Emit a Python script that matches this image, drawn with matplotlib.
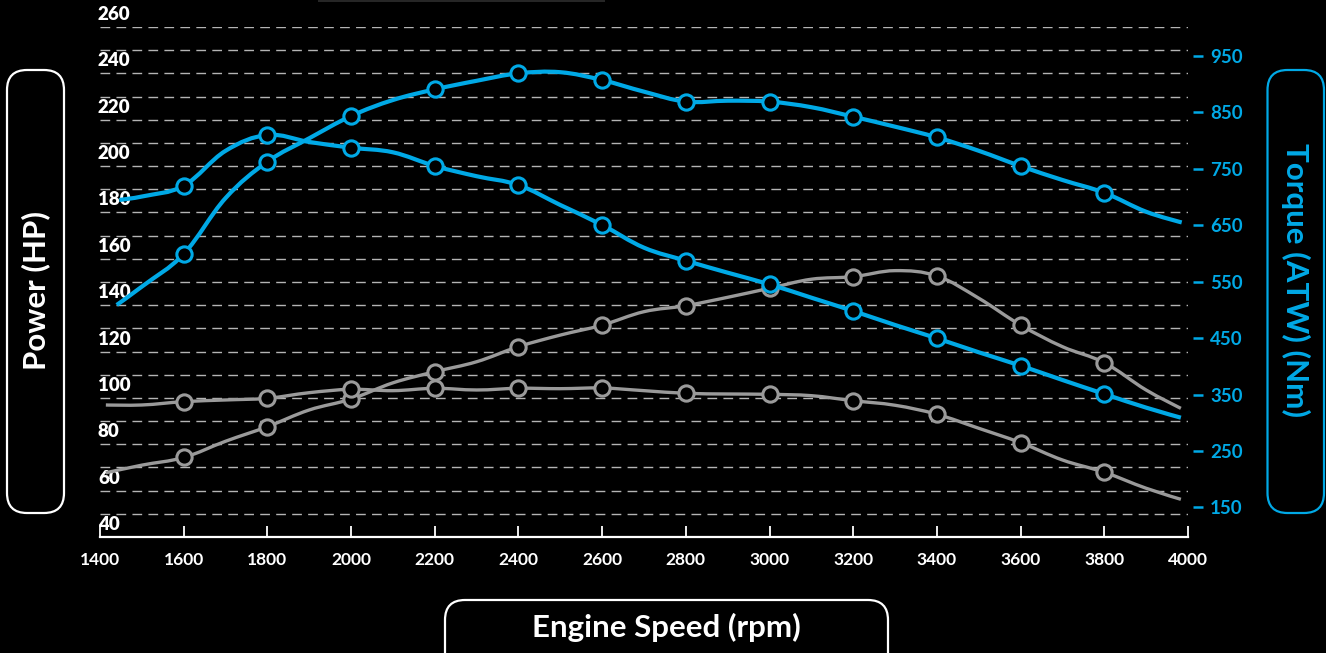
import numpy as np
import matplotlib
matplotlib.use("Agg")
import matplotlib.pyplot as plt
from matplotlib.path import Path
from matplotlib.patches import PathPatch, FancyBboxPatch, Rectangle
from matplotlib.transforms import ScaledTranslation

plt.rcParams['font.family'] = ['Lato', 'DejaVu Sans']
plt.rcParams['font.weight'] = 'bold'

BLUE = '#00a9e6'
GREY = '#9a9a9a'

# tuned power (HP, left axis)
tuned_hp_rpm = [1440, 1500, 1600, 1700, 1800, 1900, 2000, 2100, 2200, 2300, 2400, 2500, 2600,
                2700, 2800, 2900, 3000, 3100, 3200, 3300, 3400, 3500, 3600, 3700, 3800, 3900, 3985]
tuned_hp = [140.1, 148.0, 162.1, 186.2, 201.9, 212.0, 221.6, 228.5, 233.1, 236.8, 240.0, 240.5, 237.1,
            232.1, 227.8, 228.2, 227.8, 225.4, 221.3, 217.0, 212.4, 206.6, 200.0, 194.0, 188.5, 180.3, 175.7]

# tuned torque (Nm, right axis)
tuned_nm_rpm = [1446, 1500, 1600, 1700, 1800, 1900, 2000, 2100, 2200, 2300, 2400, 2500, 2600,
                2700, 2800, 2900, 3000, 3100, 3200, 3300, 3400, 3500, 3600, 3700, 3800, 3900, 3983]
tuned_nm = [694.9, 701.0, 720.2, 782.0, 810.1, 797.7, 787.6, 779.4, 755.1, 737.0, 721.4, 686.0, 650.5,
            610.3, 587.3, 566.0, 545.4, 521.7, 498.1, 473.3, 449.7, 424.9, 401.2, 375.8, 351.0, 326.8, 309.0]

# stock power (HP, left axis)
stock_hp_rpm = [1414, 1500, 1600, 1700, 1800, 1900, 2000, 2100, 2200, 2300, 2400, 2500, 2600,
                2700, 2800, 2900, 3000, 3100, 3200, 3300, 3400, 3500, 3600, 3700, 3800, 3900, 3983]
stock_hp = [67.7, 71.0, 74.3, 81.3, 87.6, 94.8, 99.5, 106.5, 111.3, 115.6, 122.1, 127.1, 131.4,
            137.2, 139.8, 143.4, 147.3, 151.2, 152.3, 154.9, 152.6, 143.0, 131.4, 122.1, 115.2, 103.4, 95.5]

# stock torque (Nm, right axis)
stock_nm_rpm = stock_hp_rpm
stock_nm = [331.5, 331.5, 337.4, 340.4, 343.4, 353.3, 359.3, 356.9, 361.1, 358.1, 361.1, 360.4, 361.6,
            356.9, 352.2, 351.0, 350.4, 348.0, 339.1, 331.0, 315.0, 290.2, 264.7, 234.0, 212.2, 183.9, 164.3]

rpm_ticks = list(range(1400, 4001, 200))
hp_ticks = list(range(40, 261, 20))
nm_ticks = list(range(150, 951, 100))


def smooth_path(xs, ys, t=0.36):
    # cubic bezier through the points (like a tension spline)
    xs = np.asarray(xs, float)
    ys = np.asarray(ys, float)
    n = len(xs)
    c1 = np.zeros((n, 2))
    c2 = np.zeros((n, 2))
    for i in range(n):
        if i == 0 or i == n - 1:
            c1[i] = c2[i] = (xs[i], ys[i])
            continue
        d01 = xs[i] - xs[i - 1]
        d12 = xs[i + 1] - xs[i]
        s01 = d01 / (d01 + d12)
        s12 = d12 / (d01 + d12)
        dx = xs[i + 1] - xs[i - 1]
        dy = ys[i + 1] - ys[i - 1]
        c1[i] = (xs[i] - t * s01 * dx, ys[i] - t * s01 * dy)
        c2[i] = (xs[i] + t * s12 * dx, ys[i] + t * s12 * dy)
    verts = [(xs[0], ys[0])]
    codes = [Path.MOVETO]
    for i in range(n - 1):
        verts += [tuple(c2[i]), tuple(c1[i + 1]), (xs[i + 1], ys[i + 1])]
        codes += [Path.CURVE4] * 3
    return Path(verts, codes)


def draw_series(axis, xs, ys, color, lw):
    axis.add_patch(PathPatch(smooth_path(xs, ys), facecolor='none', edgecolor=color,
                             lw=lw, capstyle='butt', joinstyle='round', zorder=3))
    mx = [x for x in xs if x % 200 == 0 and 1600 <= x <= 3800]
    my = [y for x, y in zip(xs, ys) if x % 200 == 0 and 1600 <= x <= 3800]
    axis.plot(mx, my, 'o', ms=11, mfc='black', mec=color, mew=2.2, zorder=4)


fig = plt.figure(figsize=(13.26, 6.53), dpi=100, facecolor='black')
ax = fig.add_axes([100 / 1326, 1 - 537 / 653, 1088 / 1326, 510 / 653])
ax.set_facecolor('black')
ax.set_xlim(1400, 4000)
ax.set_ylim(40, 260)

for s in ['top', 'left', 'right']:
    ax.spines[s].set_visible(False)
ax.spines['bottom'].set_color('white')
ax.spines['bottom'].set_linewidth(1.6)

ax.set_xticks(rpm_ticks)
ax.set_xticklabels([str(v) for v in rpm_ticks], fontweight='bold')
ax.tick_params(axis='x', direction='in', length=8, width=1.3, colors='white',
               pad=11, labelsize=12.5)

ax.set_yticks(list(range(50, 260, 20)), minor=True)
ax.set_yticks(hp_ticks)
ax.set_yticklabels([str(v) for v in hp_ticks])
ax.tick_params(axis='y', which='both', length=0, pad=1.5, labelcolor='white')
shift = ScaledTranslation(0, 0.04, fig.dpi_scale_trans)
for lab in ax.get_yticklabels():
    lab.set_fontweight('heavy')
    lab.set_fontsize(13.5)
    lab.set_horizontalalignment('left')
    lab.set_verticalalignment('bottom')
    lab.set_transform(lab.get_transform() + shift)

ax.set_axisbelow(True)
ax.grid(axis='y', which='both', color='#b4b4b4', linewidth=1.0, linestyle=(0, (7, 4.5)))

ax2 = ax.twinx()
ax2.set_ylim(97.5, 1001.5)
for s in ['top', 'left', 'right', 'bottom']:
    ax2.spines[s].set_visible(False)
ax2.spines['right'].set_position(('outward', 3.6))
ax2.set_yticks(nm_ticks)
ax2.set_yticklabels([str(v) for v in nm_ticks], fontweight='bold', fontsize=13.5)
ax2.tick_params(axis='y', direction='out', length=7.2, width=1.8, colors=BLUE, pad=5)

draw_series(ax, stock_hp_rpm, stock_hp, GREY, 2.4)
draw_series(ax, tuned_hp_rpm, tuned_hp, BLUE, 3.0)
draw_series(ax2, stock_nm_rpm, stock_nm, GREY, 2.4)
draw_series(ax2, tuned_nm_rpm, tuned_nm, BLUE, 3.0)

# axis title boxes
tr = fig.dpi_scale_trans
fig.add_artist(FancyBboxPatch((0.07, 1.40), 0.57, 4.43, boxstyle='round,pad=0,rounding_size=0.2',
                              transform=tr, facecolor='black', edgecolor='white', lw=1.6))
fig.add_artist(FancyBboxPatch((12.675, 1.40), 0.565, 4.43, boxstyle='round,pad=0,rounding_size=0.2',
                              transform=tr, facecolor='black', edgecolor=BLUE, lw=1.6))
fig.add_artist(FancyBboxPatch((4.45, -0.30), 4.43, 0.83, boxstyle='round,pad=0,rounding_size=0.2',
                              transform=tr, facecolor='black', edgecolor='white', lw=1.6))
fig.add_artist(Rectangle((3.18, 6.51), 2.87, 0.02, transform=tr, facecolor='#262626',
                         edgecolor='none'))

fig.text(0.355, 3.62, 'Power (HP)', transform=tr, rotation=90, ha='center', va='center',
         color='white', fontsize=22.5)
fig.text(12.96, 3.73, 'Torque (ATW) (Nm)', transform=tr, rotation=270, ha='center', va='center',
         color=BLUE, fontsize=22.5)
fig.text(6.66, 0.26, 'Engine Speed (rpm)', transform=tr, ha='center', va='center',
         color='white', fontsize=22.5)

fig.savefig('out.png', dpi=100, facecolor='black')
